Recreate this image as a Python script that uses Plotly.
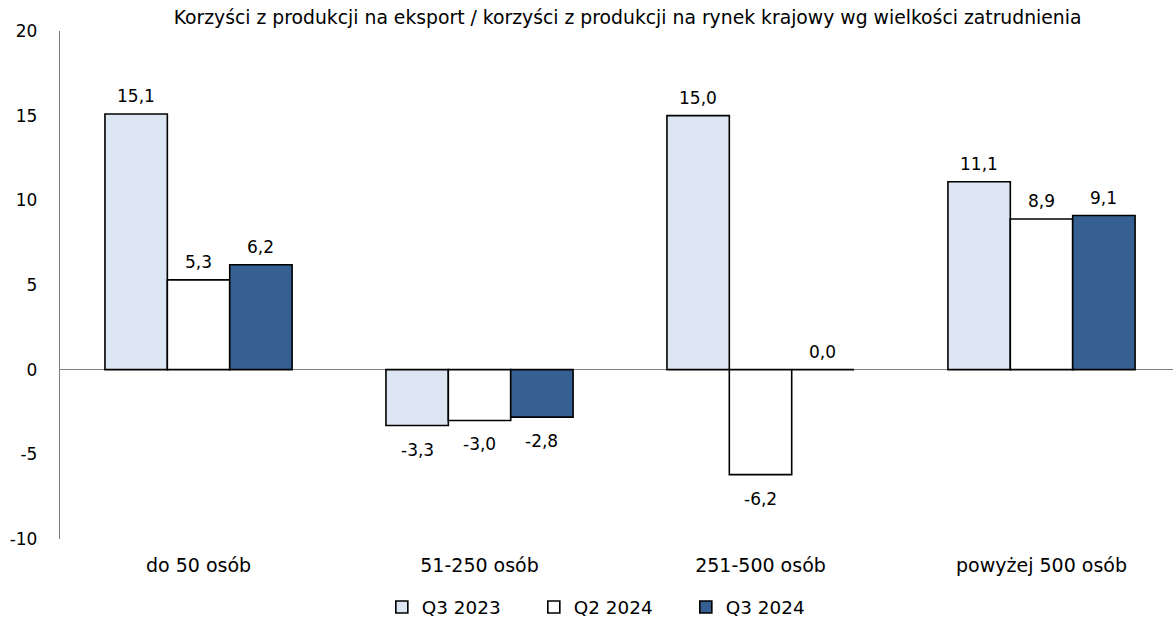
import plotly.graph_objects as go

# Kategorie wielkości zatrudnienia
categories = ["do 50 osób", "51-250 osób", "251-500 osób", "powyżej 500 osób"]

# Serie: saldo korzyści z produkcji na eksport vs. na rynek krajowy
series_names = ["Q3 2023", "Q2 2024", "Q3 2024"]
q3_2023 = [15.1, -3.3, 15.0, 11.1]
q2_2024 = [5.3, -3.0, -6.2, 8.9]
q3_2024 = [6.2, -2.8, 0.0, 9.1]

# Oś Y
y_ticks = [-10, -5, 0, 5, 10, 15, 20]
y_ticktext = [str(t) for t in y_ticks]

series_values = [q3_2023, q2_2024, q3_2024]
series_colors = ["#DCE6F2", "#FFFFFF", "#376092"]

title_text = ("Korzyści z produkcji na eksport / korzyści z produkcji "
              "na rynek krajowy wg wielkości zatrudnienia")

FONT = "DejaVu Sans"
BARGAP = 0.334

fig = go.Figure()

for name, vals, color in zip(series_names, series_values, series_colors):
    fig.add_trace(go.Bar(
        name=name,
        x=list(range(len(categories))),
        y=vals,
        marker=dict(color=color, line=dict(color="#000000", width=1.6)),
        hoverinfo="skip",
    ))

# Etykiety wartości nad / pod słupkami (przecinek dziesiętny)
bar_w = (1 - BARGAP) / len(series_names)
annotations = []
for j, vals in enumerate(series_values):
    for i, v in enumerate(vals):
        xpos = i + (j - (len(series_names) - 1) / 2) * bar_w
        label = f"{v:.1f}".replace(".", ",")
        if v >= 0:
            annotations.append(dict(x=xpos, y=v, text=label, showarrow=False,
                                    yanchor="bottom", yshift=6,
                                    font=dict(family=FONT, size=17, color="#000")))
        else:
            annotations.append(dict(x=xpos, y=v, text=label, showarrow=False,
                                    yanchor="top", yshift=-12,
                                    font=dict(family=FONT, size=17, color="#000")))

fig.update_layout(
    width=1173, height=626,
    margin=dict(l=60, r=0, t=31, b=87),
    paper_bgcolor="white", plot_bgcolor="white",
    barmode="group", bargap=BARGAP, bargroupgap=0,
    font=dict(family=FONT, size=17, color="#000"),
    title=dict(text=title_text, x=0.535, xanchor="center", y=0.972, yanchor="middle",
               font=dict(family=FONT, size=18.8, color="#000")),
    showlegend=True,
    legend=dict(orientation="h", x=0.494, xanchor="center", y=-0.134, yanchor="middle",
                font=dict(family=FONT, size=18.4), entrywidth=107, itemwidth=30,
                itemclick=False, itemdoubleclick=False),
    annotations=annotations,
)

fig.update_xaxes(
    tickmode="array", tickvals=list(range(len(categories))), ticktext=categories,
    range=[-0.493, 3.468], showgrid=False, showline=False, zeroline=False,
    ticks="", ticklabelstandoff=13, tickfont=dict(family=FONT, size=19),
)

fig.update_yaxes(
    range=[-10, 20], tickmode="array", tickvals=y_ticks, ticktext=y_ticktext,
    showgrid=False, showline=True, linecolor="#808080", linewidth=1.3,
    zeroline=True, zerolinecolor="#808080", zerolinewidth=1.3,
    ticks="", ticklabelstandoff=18, tickfont=dict(family=FONT, size=17),
)

fig.write_html("out.html")
